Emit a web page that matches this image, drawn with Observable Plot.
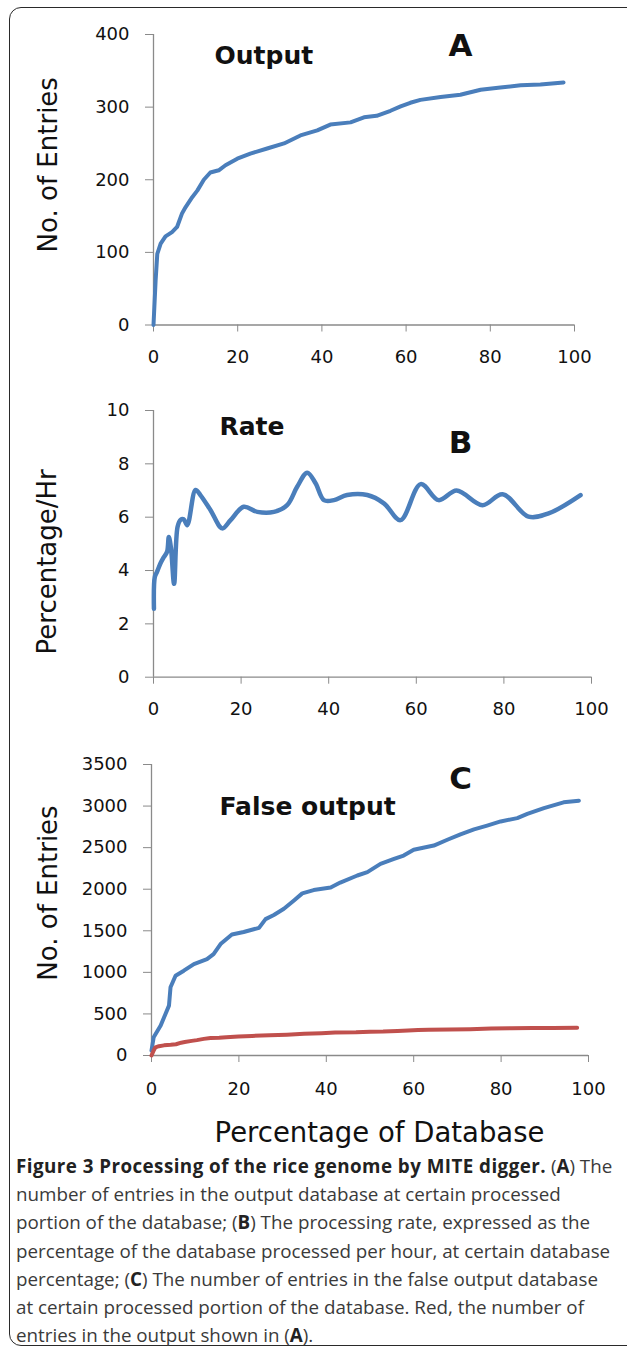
<!DOCTYPE html>
<html>
<head>
<meta charset="utf-8">
<script src="https://cdn.jsdelivr.net/npm/d3@7"></script>
<script src="https://cdn.jsdelivr.net/npm/@observablehq/plot@0.6"></script>
<style>
  html, body { margin: 0; padding: 0; background: #fff; }
  body { width: 627px; height: 1351px; overflow: hidden; position: relative; }
  #frame { position: absolute; left: 9px; top: 7px; width: 640px; height: 1337px;
           border: 1.6px solid #2a2a2a; border-radius: 12px; }
  .panel { position: absolute; left: 0; }
  .panel svg { display: block; }
  #caption { position: absolute; left: 16px; top: 1152px; white-space: nowrap;
             font-family: "Open Sans", sans-serif; font-size: 18.8px; line-height: 28.2px; color: #3a3a3a; }
  #caption b { color: #222; font-weight: 700; }
  #caption .lead { letter-spacing: 0.45px; }
</style>
</head>
<body>
<div id="frame"></div>
<div id="pa" class="panel" style="top:0px"></div>
<div id="pb" class="panel" style="top:380px"></div>
<div id="pc" class="panel" style="top:720px"></div>
<div id="caption">
<b class="lead">Figure 3 Processing of the rice genome by MITE digger.</b> (<b>A</b>) The<br>
number of entries in the output database at certain processed<br>
portion of the database; (<b>B</b>) The processing rate, expressed as the<br>
percentage of the database processed per hour, at certain database<br>
percentage; (<b>C</b>) The number of entries in the false output database<br>
at certain processed portion of the database. Red, the number of<br>
entries in the output shown in (<b>A</b>).
</div>
<script>
// ---- Data ----
const xTicks = [0, 20, 40, 60, 80, 100];

// Panel A: Output
const outputPct = [0, 0.5, 0.9, 1.7, 2.85, 4.4, 5.6, 6.8, 7.6, 9.2, 10.4, 11.95, 13.5, 15.5, 17.1, 19.9, 23, 27, 31, 34.9, 38.9, 42, 46.8, 50, 53, 56.3, 58.7, 61, 63.4, 68.2, 72.9, 77.7, 82.4, 87.2, 91.9, 97.4];
const outputEntries = [0, 61, 98, 112, 122, 128, 135, 154, 162, 176, 185, 200, 210, 213, 220, 229, 236, 243, 250, 261, 268, 276, 279, 286, 288, 295, 301, 306, 310, 314, 317, 324, 327, 330, 331, 334];
const yTicksA = [0, 100, 200, 300, 400];

// Panel B: Rate
const ratePct = [0.1, 0.3, 0.8, 1.6, 2.35, 3.1, 3.5, 4.0, 4.7, 5.5, 6.2, 6.9, 7.7, 9.6, 10.7, 13, 15.7, 17.6, 20.6, 23.7, 27.5, 30.5, 32.8, 35.1, 37, 38.9, 41.2, 44.2, 48.8, 52.6, 56.4, 61, 65.1, 69.2, 75.1, 79.7, 85.6, 90.2, 97.5];
const rateValues = [2.57, 3.76, 3.95, 4.27, 4.5, 4.7, 5.26, 4.83, 3.5, 5.64, 5.9, 5.92, 5.7, 7.02, 6.83, 6.27, 5.58, 5.89, 6.39, 6.2, 6.2, 6.45, 7.14, 7.67, 7.27, 6.64, 6.64, 6.83, 6.83, 6.52, 5.89, 7.24, 6.64, 7.0, 6.45, 6.86, 6.02, 6.14, 6.83];
const yTicksB = [0, 2, 4, 6, 8, 10];

// Panel C: False output (blue) and Output (red, same as panel A)
const falsePct = [0, 0.5, 2.1, 3.2, 4.0, 4.35, 5.5, 7.4, 9.7, 12.7, 14.2, 15.8, 18.4, 21.1, 24.6, 26.1, 28, 30.3, 32.6, 34.5, 37.1, 41, 43.2, 47.1, 49.4, 52.4, 55.5, 57.7, 60, 64.6, 67.7, 70.7, 73.8, 76.8, 79.9, 83.7, 86, 89.8, 94.3, 97.8];
const falseEntries = [60, 220, 360, 500, 600, 820, 960, 1020, 1100, 1160, 1220, 1340, 1455, 1485, 1535, 1640, 1690, 1765, 1865, 1950, 1990, 2020, 2080, 2165, 2205, 2305, 2365, 2405, 2475, 2525, 2595, 2660, 2720, 2765, 2815, 2855, 2905, 2975, 3045, 3065];
const yTicksC = [0, 500, 1000, 1500, 2000, 2500, 3000, 3500];

// ---- Styles ----
const BLUE = "#4a7ebb", RED = "#c0504d", AXIS = "#8a8a8a", INK = "#111";
const FONT = "DejaVu Sans";

const toRows = (xs, ys) => xs.map((x, i) => ({x, y: ys[i]}));

function axes(yTicks, xPad) {
  return [
    Plot.ruleX([0], {stroke: AXIS, strokeWidth: 1.3}),
    Plot.ruleY([0], {stroke: AXIS, strokeWidth: 1.3}),
    Plot.axisX(xTicks, {tickSize: 7, tickPadding: xPad, stroke: AXIS, fill: INK, fontSize: 18, label: null, tickFormat: d => String(d)}),
    Plot.axisY(yTicks, {tickSize: 8, tickPadding: 16, stroke: AXIS, fill: INK, fontSize: 18, label: null, tickFormat: d => String(d)})
  ];
}
function label(str, opts) {
  return Plot.text([str], {text: d => d, fill: INK, ...opts});
}

const common = {width: 627, style: {fontFamily: FONT, background: "transparent", color: INK, overflow: "visible"}};

// Panel A
const plotA = Plot.plot({
  ...common, height: 380,
  marginLeft: 153, marginRight: 53, marginTop: 34, marginBottom: 55.5,
  x: {domain: [0, 100]}, y: {domain: [0, 400]},
  marks: [
    ...axes(yTicksA, 18),
    Plot.line(toRows(outputPct, outputEntries), {x: "x", y: "y", stroke: BLUE, strokeWidth: 4, strokeLinejoin: "round", strokeLinecap: "round"}),
    label("Output", {frameAnchor: "top-left", dx: 61, dy: 11.5, textAnchor: "start", lineAnchor: "top", fontWeight: "bold", fontSize: 25}),
    label("A", {frameAnchor: "top-left", dx: 307, dy: -1, textAnchor: "middle", lineAnchor: "top", fontWeight: "bold", fontSize: 31}),
    label("No. of Entries", {frameAnchor: "left", rotate: -90, dx: -105, dy: -15, textAnchor: "middle", lineAnchor: "middle", fontSize: 26})
  ]
});
document.getElementById("pa").append(plotA);

// Panel B
const plotB = Plot.plot({
  ...common, height: 340,
  marginLeft: 153, marginRight: 36, marginTop: 30, marginBottom: 43.3,
  x: {domain: [0, 100]}, y: {domain: [0, 10]},
  marks: [
    ...axes(yTicksB, 18),
    Plot.line(toRows(ratePct, rateValues), {x: "x", y: "y", stroke: BLUE, strokeWidth: 4.5, curve: "catmull-rom", strokeLinejoin: "round", strokeLinecap: "round"}),
    label("Rate", {frameAnchor: "top-left", dx: 66, dy: 7, textAnchor: "start", lineAnchor: "top", fontWeight: "bold", fontSize: 25}),
    label("B", {frameAnchor: "top-left", dx: 307, dy: 20, textAnchor: "middle", lineAnchor: "top", fontWeight: "bold", fontSize: 31}),
    label("Percentage/Hr", {frameAnchor: "left", rotate: -90, dx: -106, dy: 18, textAnchor: "middle", lineAnchor: "middle", fontSize: 26})
  ]
});
document.getElementById("pb").append(plotB);

// Panel C
const plotC = Plot.plot({
  ...common, height: 430,
  marginLeft: 151, marginRight: 39, marginTop: 44, marginBottom: 95,
  x: {domain: [0, 100]}, y: {domain: [0, 3500]},
  marks: [
    ...axes(yTicksC, 20),
    Plot.line(toRows(falsePct, falseEntries), {x: "x", y: "y", stroke: BLUE, strokeWidth: 4, strokeLinejoin: "round", strokeLinecap: "round"}),
    Plot.line(toRows(outputPct, outputEntries), {x: "x", y: "y", stroke: RED, strokeWidth: 4, strokeLinejoin: "round", strokeLinecap: "round"}),
    label("C", {frameAnchor: "top-left", dx: 309, dy: 2, textAnchor: "middle", lineAnchor: "top", fontWeight: "bold", fontSize: 31}),
    label("False output", {frameAnchor: "top-left", dx: 68, dy: 33, textAnchor: "start", lineAnchor: "top", fontWeight: "bold", fontSize: 25}),
    label("No. of Entries", {frameAnchor: "left", rotate: -90, dx: -103, dy: -17, textAnchor: "middle", lineAnchor: "middle", fontSize: 26}),
    label("Percentage of Database", {frameAnchor: "bottom", dx: 9.5, dy: 67, textAnchor: "middle", lineAnchor: "top", fontSize: 27.5})
  ]
});
document.getElementById("pc").append(plotC);
</script>
</body>
</html>
